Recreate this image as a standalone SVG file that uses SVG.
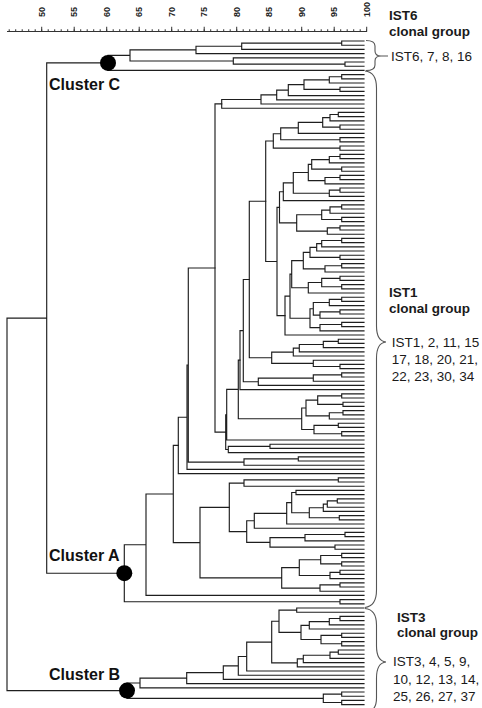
<svg xmlns="http://www.w3.org/2000/svg" width="482" height="708" viewBox="0 0 482 708">
<style>
.ln{fill:none;stroke:#1e1e1e;stroke-width:1.15;stroke-linecap:square}
.br{fill:none;stroke:#555;stroke-width:1.1}
.dot{fill:#000}
.b{font-family:"Liberation Sans",Arial,sans-serif;font-weight:bold;font-size:13.5px;fill:#1a1a1a}
.r{font-family:"Liberation Sans",Arial,sans-serif;font-size:13.5px;fill:#1a1a1a}
.cl{font-family:"Liberation Sans",Arial,sans-serif;font-weight:bold;font-size:16px;fill:#111}
.tk{font-family:"Liberation Sans",Arial,sans-serif;font-weight:bold;font-size:9px;fill:#222}
</style>
<rect width="482" height="708" fill="#fff"/>
<g id="axis">
<path d="M7 31.5H367" stroke="#333" stroke-width="1" fill="none"/>
<path d="M8.7 30.6H367" stroke="#333" stroke-width="2.6" stroke-dasharray="1 5.5" fill="none"/>
<path d="M41.2 29.3H367.5" stroke="#333" stroke-width="5" stroke-dasharray="1 31.5" fill="none"/>
<text class="tk" transform="translate(44.9,17) rotate(-90)">50</text>
<text class="tk" transform="translate(77.4,17) rotate(-90)">55</text>
<text class="tk" transform="translate(109.9,17) rotate(-90)">60</text>
<text class="tk" transform="translate(142.4,17) rotate(-90)">65</text>
<text class="tk" transform="translate(174.9,17) rotate(-90)">70</text>
<text class="tk" transform="translate(207.4,17) rotate(-90)">75</text>
<text class="tk" transform="translate(239.9,17) rotate(-90)">80</text>
<text class="tk" transform="translate(272.4,17) rotate(-90)">85</text>
<text class="tk" transform="translate(304.9,17) rotate(-90)">90</text>
<text class="tk" transform="translate(337.4,17) rotate(-90)">95</text>
<text class="tk" transform="translate(369.9,17) rotate(-90)">100</text>
</g>
<g id="connectors" class="ln">
<path d="M364 41H341.7V45.2H364M341.7 43.1H241.7V49.4H364M241.7 46.25H196V53.6H364M364 62H345V66.2H364M364 57.8H233.3V64.1H345M196 49.93H130V60.95H233.3M130 55.44H108V70.4H364"/>
<path d="M108 62.92H46.7V573.2H124.3M46.7 318.06H7V690.63H127"/>
<path d="M364 74.6H341.7V78.8H364M341.7 76.7H329.3V83H364M364 87.2H340V91.4H364M329.3 79.85H304V89.3H340M304 84.58H288.3V95.6H364M288.3 90.09H276.7V99.8H364M276.7 94.94H261V104H364M261 99.47H221.7V108.2H364"/>
<path d="M364 112.4H338.3V116.6H364M338.3 114.5H330V120.8H364M364 125H340V129.2H364M330 117.65H322.7V127.1H340M322.7 122.38H298.3V133.4H364M364 137.6H340V141.8H364M298.3 127.89H280.7V139.7H340M364 146H340V150.2H364M280.7 133.79H273.3V148.1H340"/>
<path d="M364 154.4H340V158.6H364M340 156.5H329.3V162.8H364M364 167H341.7V171.2H364M329.3 159.65H311.7V169.1H341.7M364 175.4H340V179.6H364M340 177.5H325V183.8H364M311.7 164.38H308.3V180.65H325M364 188H340V192.2H364M340 190.1H329.3V196.4H364M308.3 172.51H293.3V193.25H329.3M293.3 182.88H283.3V200.6H364"/>
<path d="M364 204.8H341.7V209H364M341.7 206.9H330V213.2H364M364 217.4H341.7V221.6H364M330 210.05H321.7V219.5H341.7M364 225.8H340V230H364M340 227.9H327.3V234.2H364M321.7 214.78H296.7V231.05H327.3M283.3 191.74H279.5V222.91H296.7"/>
<path d="M364 238.4H341.7V242.6H364M341.7 240.5H321.7V246.8H364M321.7 243.65H316.7V251H364M364 255.2H340V259.4H364M316.7 247.33H310V257.3H340M364 263.6H341.7V267.8H364M341.7 265.7H325V272H364M310 252.31H303.3V268.85H325M364 276.2H340V280.4H364M364 284.6H341.7V288.8H364M340 278.3H321.7V286.7H341.7M321.7 282.5H308.3V293H364M303.3 260.58H291.7V287.75H308.3M364 297.2H341.7V301.4H364M341.7 299.3H329.3V305.6H364M364 309.8H340V314H364M340 311.9H320V318.2H364M329.3 302.45H313.3V315.05H320M364 322.4H341.7V326.6H364M341.7 324.5H320V330.8H364M313.3 308.75H310V327.65H320M291.7 274.17H290V318.2H310M290 296.19H285V335H364"/>
<path d="M279.5 207.33H277V315.6H285M273.3 140.95H265.7V261.47H277"/>
<path d="M364 339.2H338.3V343.4H364M338.3 341.3H323.3V347.6H364M323.3 344.45H299.3V351.8H364M299.3 348.13H293.3V356H364M364 364.4H340V368.6H364M364 360.2H313.3V366.5H340M293.3 352.06H271.7V363.35H313.3M265.7 201.21H249.3V357.7H271.7"/>
<path d="M364 372.8H341.7V377H364M341.7 374.9H313.3V381.2H364M313.3 378.05H258.3V385.4H364M249.3 279.46H243.3V381.73H258.3M243.3 330.6H240V389.6H364"/>
<path d="M364 393.8H341.7V398H364M364 402.2H343V406.4H364M341.7 395.9H317.7V404.3H343M364 410.6H343V414.8H364M343 412.7H329.3V419H364M317.7 400.1H306V415.85H329.3M364 423.2H338.3V427.4H364M364 431.6H341.7V435.8H364M338.3 425.3H314V433.7H341.7M306 407.98H301.7V429.5H314M240 360.1H238.3V418.74H301.7M238.3 389.42H226.7V440H364M364 444.2H270V448.4H364M270 446.3H228.3V452.6H364M226.7 414.71H225.7V449.45H228.3M221.7 103.84H215V432.08H225.7"/>
<path d="M364 456.8H298.3V461H364M298.3 458.9H244V465.2H364M215 267.96H188.3V462.05H244M188.3 365H187V469.4H364M187 417.2H178.3V473.6H364"/>
<path d="M364 477.8H338.3V482H364M338.3 479.9H244V486.2H364M364 490.4H296V494.6H364M364 498.8H337.3V503H364M337.3 500.9H327.3V507.2H364M327.3 504.05H323.3V511.4H364M364 515.6H339.3V519.8H364M323.3 507.73H309.3V517.7H339.3M296 492.5H291.7V512.71H309.3M291.7 502.61H286.7V524H364M286.7 513.3H254.3V528.2H364M364 532.4H345V536.6H364M345 534.5H305V540.8H364M364 545H335V549.2H364M305 537.65H270V547.1H335M254.3 520.75H246.7V542.38H270M244 483.05H229.3V531.56H246.7"/>
<path d="M364 553.4H341.7V557.6H364M364 561.8H341.7V566H364M341.7 555.5H320.7V563.9H341.7M364 570.2H340V574.4H364M340 572.3H330V578.6H364M320.7 559.7H299.3V575.45H330M364 582.8H340V587H364M340 584.9H320V591.2H364M299.3 567.58H281.7V588.05H320M229.3 507.31H200V577.82H281.7M178.3 445.4H173.3V542.57H200M173.3 493.99H146V595.4H364M364 599.6H340V603.8H364M146 544.7H124.3V601.7H340"/>
<path d="M364 608H296.7V612.2H364M364 616.4H340V620.6H364M340 618.5H329.3V624.8H364M329.3 621.65H309.3V629H364M364 633.2H341.7V637.4H364M364 641.6H341.7V645.8H364M341.7 635.3H321V643.7H341.7M309.3 625.33H301V639.5H321M296.7 610.1H279V632.41H301M364 650H338.3V654.2H364M338.3 652.1H330V658.4H364M330 655.25H303.3V662.6H364M303.3 658.93H297.3V666.8H364M279 621.26H271.7V662.86H297.3M271.7 642.06H246.7V671H364M246.7 656.53H238.3V675.2H364M238.3 665.87H223.3V679.4H364M223.3 672.63H186.7V683.6H364M186.7 678.12H140V687.8H364M364 692H341.7V696.2H364M364 700.4H341.7V704.6H364M341.7 694.1H323.3V702.5H341.7M140 682.96H127V698.3H323.3"/>
</g>
<g id="cluster-C">
<circle class="dot" cx="108" cy="62.9" r="8"/>
<text class="cl" x="49" y="90">Cluster C</text>
</g>
<g id="cluster-A">
<circle class="dot" cx="124.3" cy="573.2" r="8"/>
<text class="cl" x="49" y="561">Cluster A</text>
</g>
<g id="cluster-B">
<circle class="dot" cx="127" cy="690.6" r="8"/>
<text class="cl" x="49" y="680">Cluster B</text>
</g>
<g id="IST6-group">
<path class="br" d="M366 40.5Q375 40.5 375 46V51Q375 56 381 56Q375 56 375 61V65Q375 70.5 366 70.5M381 56H388"/>
<text class="b" x="389" y="20">IST6</text>
<text class="b" x="389" y="35.5">clonal group</text>
<text class="r" x="391" y="61">IST6, 7, 8, 16</text>
</g>
<g id="IST1-group">
<path class="br" d="M365 71Q376.5 72 376.5 88V326Q376.5 341 386 342Q376.5 343 376.5 358V590Q376.5 606 365 607.5"/>
<text class="b" x="389" y="297">IST1</text>
<text class="b" x="389" y="313">clonal group</text>
<text class="r" x="391.7" y="347">IST1, 2, 11, 15</text>
<text class="r" x="391.7" y="364">17, 18, 20, 21,</text>
<text class="r" x="391.7" y="381">22, 23, 30, 34</text>
</g>
<g id="IST3-group">
<path class="br" d="M365 608.5Q376.5 609.5 376.5 625V646Q376.5 661 386 662Q376.5 663 376.5 678V698Q376.5 710 368 712"/>
<text class="b" x="397" y="622">IST3</text>
<text class="b" x="397" y="637">clonal group</text>
<text class="r" x="393" y="666">IST3, 4, 5, 9,</text>
<text class="r" x="393" y="684">10, 12, 13, 14,</text>
<text class="r" x="393" y="701">25, 26, 27, 37</text>
</g>
</svg>
